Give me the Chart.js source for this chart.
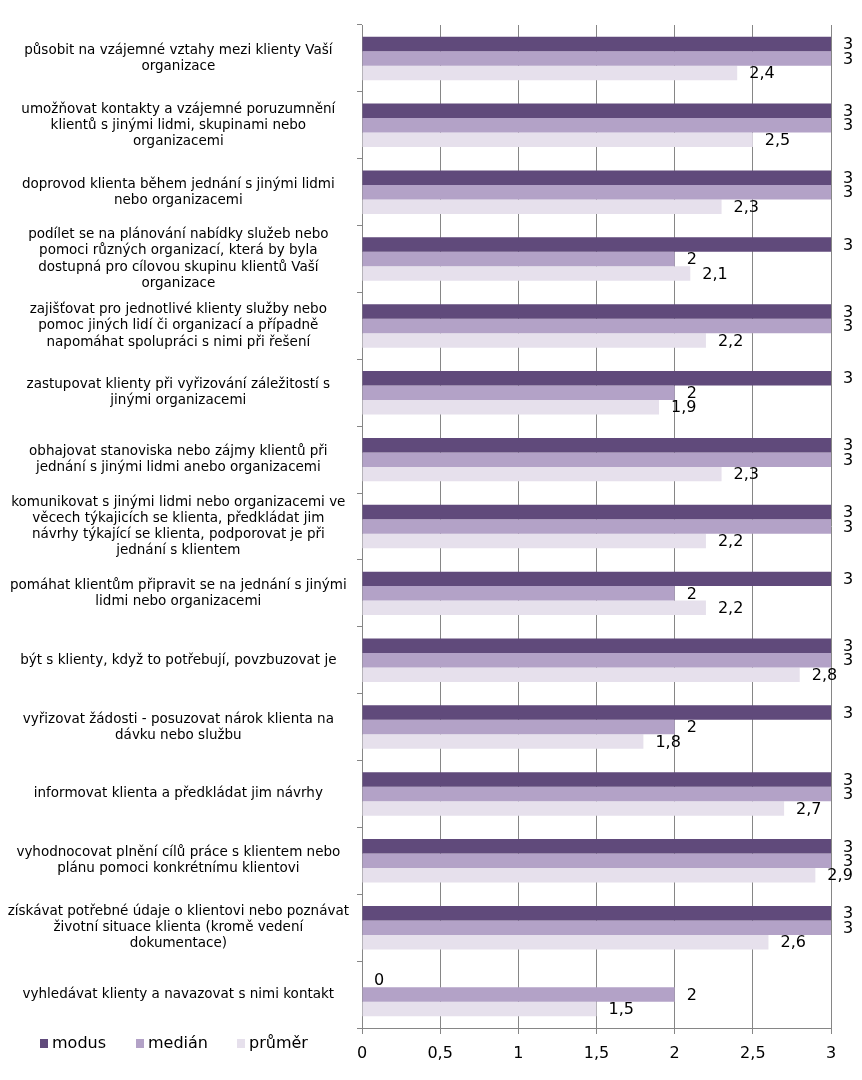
<!DOCTYPE html>
<html>
<head>
<meta charset="utf-8">
<script src="https://cdn.jsdelivr.net/npm/chart.js@4/dist/chart.umd.min.js"></script>
<style>
html,body{margin:0;padding:0;background:#fff;}
#wrap{width:862px;height:1080px;position:relative;}
</style>
</head>
<body>
<div id="wrap"><canvas id="c" width="862" height="1080"></canvas></div>
<script>
const categories = [
  ["působit na vzájemné vztahy mezi klienty Vaší", "organizace"],
  ["umožňovat kontakty a vzájemné poruzumnění", "klientů s jinými lidmi, skupinami nebo", "organizacemi"],
  ["doprovod klienta během jednání s jinými lidmi", "nebo organizacemi"],
  ["podílet se na plánování nabídky služeb nebo", "pomoci různých organizací, která by byla", "dostupná pro cílovou skupinu klientů Vaší", "organizace"],
  ["zajišťovat pro jednotlivé klienty služby nebo", "pomoc jiných lidí či organizací a případně", "napomáhat spolupráci s nimi při řešení"],
  ["zastupovat klienty při vyřizování záležitostí s", "jinými organizacemi"],
  ["obhajovat stanoviska nebo zájmy klientů při", "jednání s jinými lidmi anebo organizacemi"],
  ["komunikovat s jinými lidmi nebo organizacemi ve", "věcech týkajicích se klienta, předkládat jim", "návrhy týkající se klienta, podporovat je při", "jednání s klientem"],
  ["pomáhat klientům připravit se na jednání s jinými", "lidmi nebo organizacemi"],
  ["být s klienty, když to potřebují, povzbuzovat je"],
  ["vyřizovat žádosti - posuzovat nárok klienta na", "dávku nebo službu"],
  ["informovat klienta a předkládat jim návrhy"],
  ["vyhodnocovat plnění cílů práce s klientem nebo", "plánu pomoci konkrétnímu klientovi"],
  ["získávat potřebné údaje o klientovi nebo poznávat", "životní situace klienta (kromě vedení", "dokumentace)"],
  ["vyhledávat klienty a navazovat s nimi kontakt"]
];
const seriesNames = ["modus", "medián", "průměr"];
const modus  = [3, 3, 3, 3, 3, 3, 3, 3, 3, 3, 3, 3, 3, 3, 0];
const median = [3, 3, 3, 2, 3, 2, 3, 3, 2, 3, 2, 3, 3, 3, 2];
const prumer = [2.4, 2.5, 2.3, 2.1, 2.2, 1.9, 2.3, 2.2, 2.2, 2.8, 1.8, 2.7, 2.9, 2.6, 1.5];
const xTicks = [0, 0.5, 1, 1.5, 2, 2.5, 3];
const colors = ["#604a7b", "#b3a2c7", "#e6e0ec"];

const fmt = v => String(v).replace('.', ',');
const sans = '"DejaVu Sans", Verdana, sans-serif';

const valueLabels = {
  id: 'valueLabels',
  afterDatasetsDraw(chart) {
    const ctx = chart.ctx;
    ctx.save();
    ctx.font = '16px ' + sans;
    ctx.fillStyle = '#000';
    ctx.textAlign = 'left';
    ctx.textBaseline = 'middle';
    chart.data.datasets.forEach((ds, i) => {
      const meta = chart.getDatasetMeta(i);
      meta.data.forEach((el, j) => {
        ctx.fillText(fmt(ds.data[j]), el.x + 12, el.y + 1);
      });
    });
    ctx.restore();
  }
};

const customLegend = {
  id: 'customLegend',
  afterDraw(chart) {
    const ctx = chart.ctx;
    ctx.save();
    ctx.font = '16px ' + sans;
    ctx.textBaseline = 'middle';
    ctx.textAlign = 'left';
    const xs = [40, 136, 237];
    const y = 1044;
    chart.data.datasets.forEach((ds, i) => {
      ctx.fillStyle = ds.backgroundColor;
      ctx.fillRect(xs[i], y - 5, 8, 9);
      ctx.fillStyle = '#000';
      ctx.fillText(ds.label, xs[i] + 12, y);
    });
    ctx.restore();
  }
};

new Chart(document.getElementById('c'), {
  type: 'bar',
  data: {
    labels: categories,
    datasets: [
      { label: seriesNames[0], data: modus, backgroundColor: colors[0] },
      { label: seriesNames[1], data: median, backgroundColor: colors[1] },
      { label: seriesNames[2], data: prumer, backgroundColor: colors[2] }
    ]
  },
  options: {
    indexAxis: 'y',
    responsive: false,
    animation: false,
    devicePixelRatio: 1,
    datasets: { bar: { categoryPercentage: 0.65, barPercentage: 1.0, borderWidth: 0 } },
    layout: { padding: { top: 25, right: 31, left: 0, bottom: 0 } },
    plugins: {
      legend: { display: false },
      tooltip: { enabled: false }
    },
    scales: {
      x: {
        type: 'linear',
        min: 0, max: 3,
        afterBuildTicks(scale) { scale.ticks = xTicks.map(v => ({ value: v })); },
        afterFit(scale) { scale.height = 52; },
        ticks: {
          callback: v => fmt(v),
          color: '#000',
          font: { family: sans, size: 16 },
          padding: 10,
          maxRotation: 0
        },
        grid: { color: '#868686', lineWidth: 1, tickLength: 6, drawTicks: true },
        border: { color: '#868686', width: 1 }
      },
      y: {
        afterFit(scale) { scale.width = 362; },
        ticks: {
          color: '#000',
          font: { family: sans, size: 13.5, lineHeight: 1.2 },
          crossAlign: 'center',
          padding: 8,
          autoSkip: false
        },
        grid: { offset: true, drawOnChartArea: false, drawTicks: true, tickLength: 5, color: '#868686' },
        border: { color: '#868686', width: 1 }
      }
    }
  },
  plugins: [valueLabels, customLegend]
});
</script>
</body>
</html>
